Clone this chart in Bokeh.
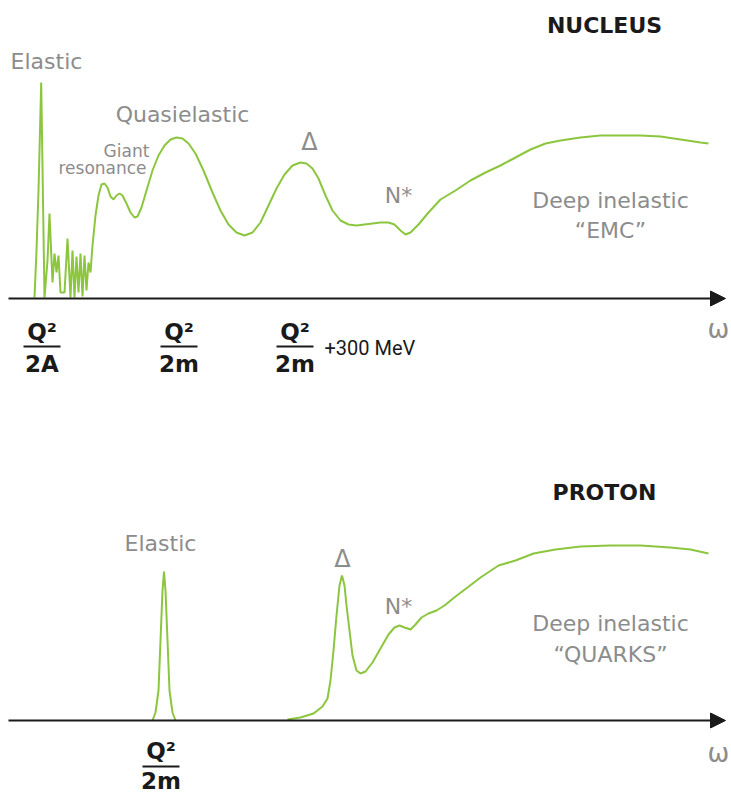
from bokeh.plotting import figure
from bokeh.models import Range1d, Label, Arrow, NormalHead
from bokeh.embed import file_html
from bokeh.resources import INLINE

# ---------------- data (omega position, intensity above baseline) ----------------
nucleus_omega = [34, 36, 38, 40.7, 44, 47, 49, 52, 54, 56, 58, 60, 64, 67, 70, 72, 74, 76, 78, 80,
                 82, 84, 86, 88, 90, 92, 95, 98, 101, 104, 107, 110, 113, 116, 119, 122, 126, 130,
                 134, 137, 141, 146, 152, 158, 164, 170, 176, 182, 188, 195, 203, 212, 220, 228,
                 236, 244, 252, 260, 268, 276, 284, 292, 300, 306, 312, 318, 325, 332, 340, 348,
                 356, 364, 372, 380, 388, 394, 400, 405, 410, 418, 428, 440, 455, 470, 485, 500,
                 515, 530, 545, 560, 580, 600, 620, 640, 660, 680, 700, 708]
nucleus_intensity = [1, 48, 108, 216, 1, 38, 85, 16, 45, 26, 43, 6, 6, 60, 1, 48, 1, 42, 6, 45,
                     2, 43, 8, 36, 26, 53, 83, 103, 114, 115, 111, 102, 99, 103, 105, 103, 95, 86,
                     81, 82, 91, 108, 128, 143, 153, 159, 161, 160, 155, 145, 128, 106, 88, 74,
                     66, 63, 66, 76, 93, 110, 124, 133, 136, 135, 130, 120, 103, 88, 78, 74,
                     73, 74, 75, 76, 76, 74, 68, 64, 66, 74, 86, 99, 108, 118, 126, 133,
                     141, 149, 155, 158, 161, 163, 163, 163, 162, 159, 156, 155]

proton_elastic_omega = [152, 155, 158, 160, 162, 163.5, 165, 167, 169, 172, 175]
proton_elastic_intensity = [0, 8, 30, 80, 130, 149, 130, 80, 30, 8, 0]

proton_omega = [287, 300, 313, 322, 327, 330, 333, 336, 339, 341.5, 344, 346, 349, 352, 356, 360,
                365, 372, 380, 388, 394, 399, 404, 410, 415, 421, 428, 436, 444, 455, 467, 480,
                498, 515, 533, 555, 580, 610, 640, 670, 690, 708]
proton_intensity = [1, 3, 7, 14, 22, 40, 70, 105, 135, 145, 135, 115, 90, 65, 50, 47,
                    49, 58, 72, 86, 93, 95, 93, 91, 96, 103, 107, 110, 115, 124, 133, 143,
                    155, 160, 167, 171, 174, 175, 175, 173, 171, 167]

# ---------------- layout ----------------
W, H = 729, 792
GREEN = "#8cc63f"
GRAY = "#8c8c8c"
BLACK = "#1a1a1a"
FONT = "DejaVu Sans"

def sy(screen_y):
    return H - screen_y

BASE_N = sy(298)
BASE_P = sy(720)

p = figure(width=W, height=H, x_range=Range1d(0, W), y_range=Range1d(0, H),
           output_backend="svg", toolbar_location=None, min_border=0)
p.axis.visible = False
p.grid.visible = False
p.outline_line_color = None
p.background_fill_color = "white"

# axes with arrows
for base in (BASE_N, BASE_P):
    p.add_layout(Arrow(end=NormalHead(size=15, fill_color=BLACK, line_color=BLACK),
                       x_start=8, y_start=base, x_end=725, y_end=base,
                       line_color=BLACK, line_width=2))

# curves
p.line(nucleus_omega, [BASE_N + v for v in nucleus_intensity], line_color=GREEN, line_width=2)
p.line(proton_elastic_omega, [BASE_P + v for v in proton_elastic_intensity], line_color=GREEN, line_width=2)
p.line(proton_omega, [BASE_P + v for v in proton_intensity], line_color=GREEN, line_width=2)

def lab(text, x, y, size=22, color=GRAY, bold=False, align="center", font=FONT):
    p.add_layout(Label(x=x, y=sy(y), text=text, text_font=font, text_font_size=f"{size}px",
                       text_color=color, text_font_style="bold" if bold else "normal",
                       text_align=align, text_baseline="middle"))

# nucleus labels
lab("NUCLEUS", 604, 25, size=22, color=BLACK, bold=True)
lab("Elastic", 46, 61)
lab("Quasielastic", 182, 114)
lab("Giant", 126, 150, size=17)
lab("resonance", 102, 167, size=17)
lab("Δ", 309, 141, size=24)
lab("N*", 398, 195)
lab("Deep inelastic", 610, 200)
lab("“EMC”", 610, 230)
lab("ω", 718, 328, size=26)

# proton labels
lab("PROTON", 604, 492, size=22, color=BLACK, bold=True)
lab("Elastic", 160, 543)
lab("Δ", 342, 558, size=24)
lab("N*", 398, 606)
lab("Deep inelastic", 610, 623)
lab("“QUARKS”", 610, 654)
lab("ω", 718, 752, size=26)

# fraction tick labels
def frac(num, den, x, ynum, ybar, yden):
    lab(num, x, ynum, size=23, color=BLACK, bold=True)
    lab(den, x, yden, size=23, color=BLACK, bold=True)
    p.segment(x0=[x - 18.5], y0=[sy(ybar)], x1=[x + 18.5], y1=[sy(ybar)],
              line_color=BLACK, line_width=2)

frac("Q²", "2A", 41.5, 331, 346, 363)
frac("Q²", "2m", 178.5, 331, 346, 363)
frac("Q²", "2m", 294.5, 331, 346, 363)
lab("+300 MeV", 324, 347, size=20, color=BLACK, align="left", font="Roboto")
frac("Q²", "2m", 160.5, 750, 766, 780)

open("out.html", "w").write(file_html(p, INLINE))
